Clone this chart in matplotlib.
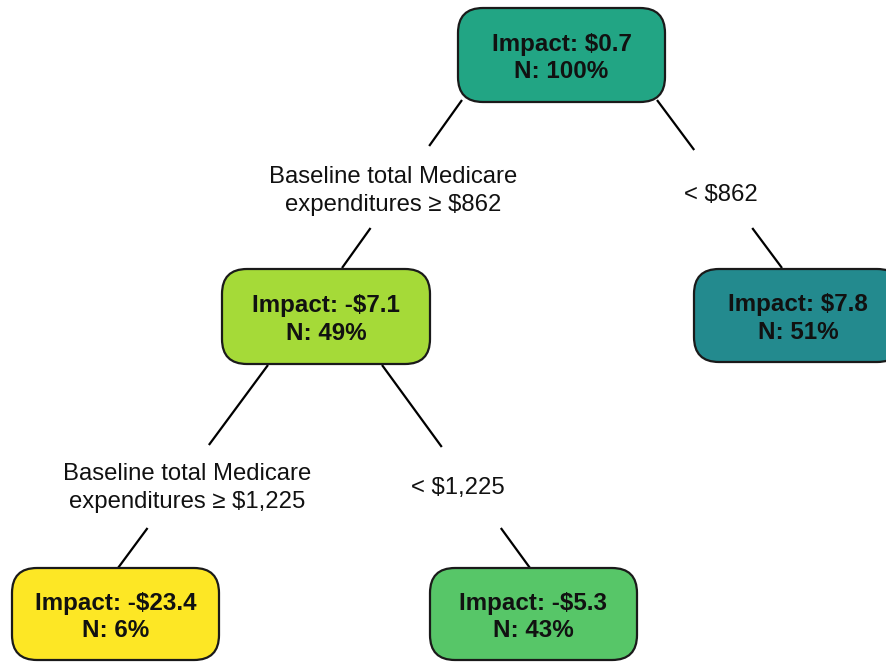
import matplotlib
matplotlib.use("Agg")
import matplotlib.pyplot as plt
from matplotlib.patches import FancyBboxPatch

# ---- data ----
impacts = ["$0.7", "-$7.1", "$7.8", "-$23.4", "-$5.3"]
shares = [100, 49, 51, 6, 43]
split_labels = ["Baseline total Medicare\nexpenditures \u2265 $862", "< $862",
                "Baseline total Medicare\nexpenditures \u2265 $1,225", "< $1,225"]
parents = [0, 0, 1, 1]          # parent node of each edge
children = [1, 2, 3, 4]         # child node of each edge

# ---- layout / style ----
node_colors = ["#22A584", "#A5DA38", "#238A8E", "#FDE725", "#57C668"]
node_centers = [(561.5, 55), (326, 316.5), (798, 315.5), (115.5, 614), (533.5, 614)]
box_w, box_h = [207, 208, 208, 207, 207], [94, 95, 93, 92, 92]
edge_start = [(462, 100), (657, 100), (268, 365), (382, 365)]
edge_end = [(342, 268), (782, 268), (118, 568), (530, 568)]
label_pos = [(393, 191), (721, 195), (187, 488), (458, 488)]
gap = [(146, 228), (150, 228), (445, 528), (447, 528)]

fig = plt.figure(figsize=(8.86, 6.64), dpi=100)
ax = fig.add_axes([0, 0, 1, 1])
ax.set_xlim(0, 886)
ax.set_ylim(664, 0)
ax.axis("off")

FONT = "Liberation Sans"

for i in range(len(parents)):
    (x0, y0), (x1, y1) = edge_start[i], edge_end[i]
    g0, g1 = gap[i]
    xa = x0 + (x1 - x0) * (g0 - y0) / (y1 - y0)
    xb = x0 + (x1 - x0) * (g1 - y0) / (y1 - y0)
    ax.plot([x0, xa], [y0, g0], color="black", lw=1.6, solid_capstyle="butt", zorder=1)
    ax.plot([xb, x1], [g1, y1], color="black", lw=1.6, solid_capstyle="butt", zorder=1)
    lx, ly = label_pos[i]
    ax.text(lx, ly, split_labels[i], ha="center", va="center", fontsize=17.2,
            family=[FONT, "DejaVu Sans"], color="#111111", linespacing=1.36, zorder=3)

for i, (cx, cy) in enumerate(node_centers):
    w, h = box_w[i], box_h[i]
    patch = FancyBboxPatch((cx - w / 2, cy - h / 2), w, h,
                           boxstyle="round,pad=0,rounding_size=25",
                           facecolor=node_colors[i], edgecolor="#1a1a1a", lw=1.6, zorder=2)
    ax.add_patch(patch)
    ax.text(cx, cy + 3, f"Impact: {impacts[i]}\nN: {shares[i]}%", ha="center", va="center",
            fontsize=17.4, fontweight="bold", family=[FONT, "DejaVu Sans"], color="#111111",
            linespacing=1.27, zorder=3)

fig.savefig("out.png", dpi=100)
